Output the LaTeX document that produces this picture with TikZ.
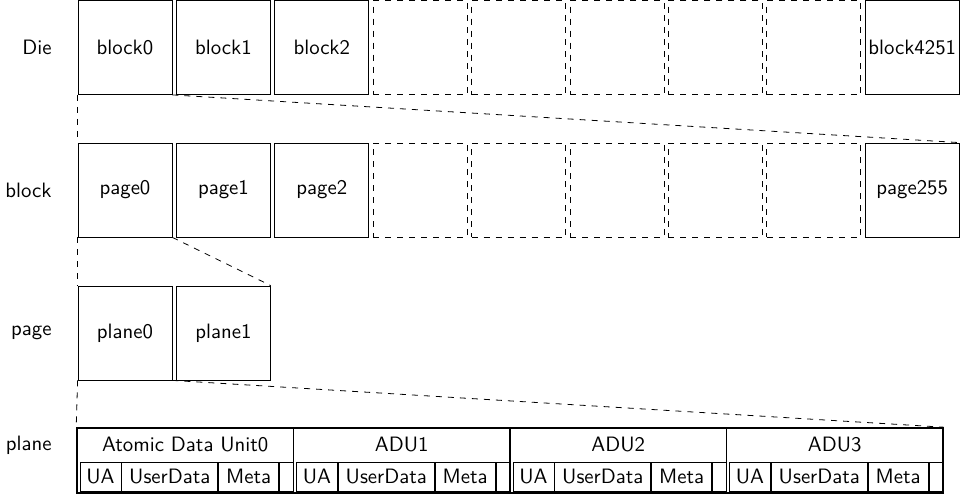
\documentclass[tikz,border=0pt]{standalone}
\usepackage{fontspec}
\usetikzlibrary{positioning}
\tikzset{
  txt/.style={font=\fontsize{10.4}{12}\selectfont\sffamily},
  cell/.style={txt, draw, minimum size=47pt, inner sep=0pt},
  emptycell/.style={cell, dashed},
  rowlabel/.style={txt, anchor=east, inner sep=0pt},
  adu/.style={draw, thick, minimum width=108.25pt, minimum height=32.5pt, inner sep=0pt},
  sub/.style={txt, draw, minimum height=14.5pt, inner sep=0pt}
}
\begin{document}
\begin{tikzpicture}[x=0.5pt,y=-0.5pt,node distance=1.8pt]
\useasboundingbox (0,0) rectangle (960,494);
%row labels
\node[rowlabel] (ldie) at (52,47.5) {Die};
\node[rowlabel] (lblock) at (52,190) {block};
\node[rowlabel] (lpage) at (52,333) {page};
\node[rowlabel] (lplane) at (52,445) {plane};
%Die
\node[cell] (b0) at (125,47.5) {block0};
\node[cell,right=of b0] (b1) {block1};
\node[cell,right=of b1] (b2) {block2};
\node[emptycell,right=of b2] (b3) {};
\node[emptycell,right=of b3] (b4) {};
\node[emptycell,right=of b4] (b5) {};
\node[emptycell,right=of b5] (b6) {};
\node[emptycell,right=of b6] (b7) {};
\node[cell,right=of b7] (b4251) {block4251};
%block
\node[cell] (p0) at (125,190) {page0};
\node[cell,right=of p0] (p1) {page1};
\node[cell,right=of p1] (p2) {page2};
\node[emptycell,right=of p2] (p3) {};
\node[emptycell,right=of p3] (p4) {};
\node[emptycell,right=of p4] (p5) {};
\node[emptycell,right=of p5] (p6) {};
\node[emptycell,right=of p6] (p7) {};
\node[cell,right=of p7] (p255) {page255};
%page
\node[cell] (pl0) at (125,333) {plane0};
\node[cell,right=of pl0] (pl1) {plane1};
%plane
\node[adu] (adu0) at (185.25,460.5) {};
\node[adu] (adu1) at (401.75,460.5) {};
\node[adu] (adu2) at (618.25,460.5) {};
\node[adu] (adu3) at (834.75,460.5) {};
\node[txt] (h0) at (185.25,445) {Atomic Data Unit0};
\node[txt] (h1) at (401.75,445) {ADU1};
\node[txt] (h2) at (618.25,445) {ADU2};
\node[txt] (h3) at (834.75,445) {ADU3};
\node[sub,minimum width=20.5pt] (ua0) at (100.5,476.5) {UA};
\node[sub,minimum width=48pt,right=0pt of ua0] (ud0) {UserData};
\node[sub,minimum width=30pt,right=0pt of ud0] (meta0) {Meta};
\node[sub,minimum width=7pt,right=0pt of meta0] (pad0) {};
\node[sub,minimum width=20.5pt] (ua1) at (317,476.5) {UA};
\node[sub,minimum width=48pt,right=0pt of ua1] (ud1) {UserData};
\node[sub,minimum width=30pt,right=0pt of ud1] (meta1) {Meta};
\node[sub,minimum width=7pt,right=0pt of meta1] (pad1) {};
\node[sub,minimum width=20.5pt] (ua2) at (533.5,476.5) {UA};
\node[sub,minimum width=48pt,right=0pt of ua2] (ud2) {UserData};
\node[sub,minimum width=30pt,right=0pt of ud2] (meta2) {Meta};
\node[sub,minimum width=7pt,right=0pt of meta2] (pad2) {};
\node[sub,minimum width=20.5pt] (ua3) at (750,476.5) {UA};
\node[sub,minimum width=48pt,right=0pt of ua3] (ud3) {UserData};
\node[sub,minimum width=30pt,right=0pt of ud3] (meta3) {Meta};
\node[sub,minimum width=7pt,right=0pt of meta3] (pad3) {};
%zoom lines
\draw[dashed] (b0.south west)--(p0.north west);
\draw[dashed] (b0.south east)--(p255.north east);
\draw[dashed] (p0.south west)--(pl0.north west);
\draw[dashed] (p0.south east)--(pl1.north east);
\draw[dashed] (pl0.south west)--(adu0.north west);
\draw[dashed] (pl0.south east)--(adu3.north east);
\end{tikzpicture}
\end{document}
